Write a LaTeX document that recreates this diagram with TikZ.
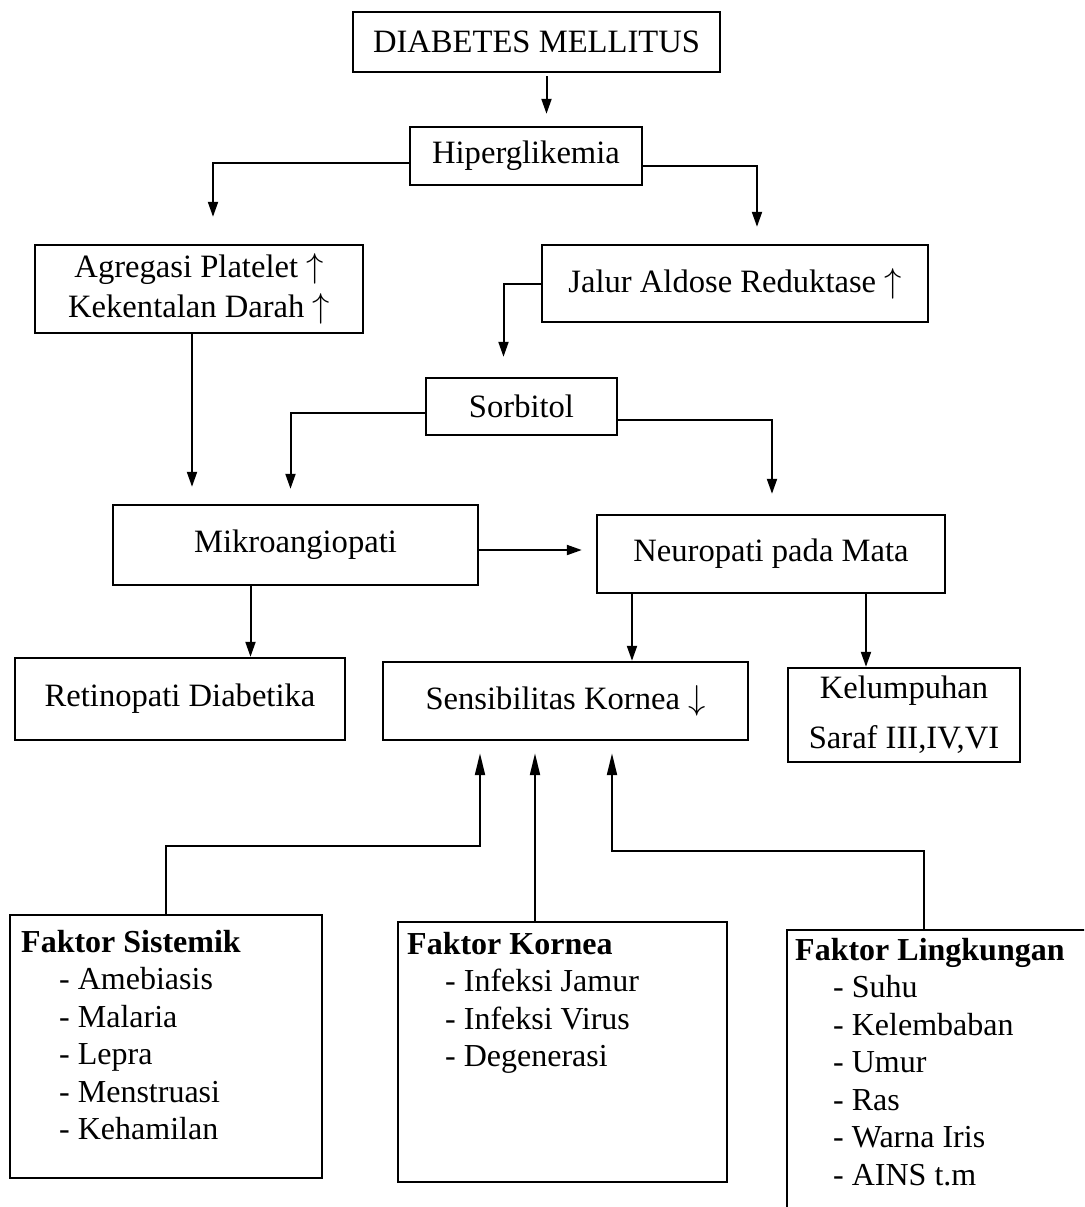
\documentclass[tikz,border=0pt]{standalone}
\usepackage{fontspec}
\setmainfont{Liberation Serif}
\usetikzlibrary{arrows.meta,positioning,calc}

\tikzset{
  box/.style={draw, line width=1.2pt, inner sep=0pt, align=center},
  link/.style={line width=1pt},
  arr/.style={link, -{Triangle[length=7.5pt,width=5pt]}},
  uparr/.style={link, -{Triangle[length=11pt,width=5pt]}},
  factxt/.style={anchor=north west, align=left, inner sep=0pt,
    font=\fontsize{16}{18.75}\selectfont}
}
\newcommand{\itm}{\hspace*{19pt}- }

\begin{document}
\begin{tikzpicture}[x=0.5pt, y=-0.5pt, font=\fontsize{16.3}{20}\selectfont]
  \useasboundingbox (0,0) rectangle (1084,1207);
  \clip (0,0) rectangle (1084,1207);

  % --- upper chain ---
  \node[box, minimum width=183.5pt, minimum height=30pt] (dm) at (536.5,42) {DIABETES MELLITUS};
  \node[box, minimum width=116pt, minimum height=29pt] (hip) at (526,156) {Hiperglikemia};
  \node[box, minimum width=164pt, minimum height=44pt] (agr) at (199,289) {Agregasi Platelet $\uparrow$\\Kekentalan Darah $\uparrow$};
  \node[box, minimum width=193pt, minimum height=38.5pt] (jal) at (735,283.5) {Jalur Aldose Reduktase $\uparrow$};
  \node[box, minimum width=95.5pt, minimum height=28.5pt] (sor) at (521.5,406.5) {Sorbitol};
  \node[box, minimum width=182.5pt, minimum height=40pt] (mik) at (295.5,545) {Mikroangiopati};
  \node[box, minimum width=174pt, minimum height=39pt] (neu) at (771,554) {Neuropati pada Mata};

  % --- results ---
  \node[box, minimum width=165pt, minimum height=41pt] (ret) at (180,699) {Retinopati Diabetika};
  \node[box, minimum width=182.5pt, minimum height=39pt] (sen) at (565.5,701) {Sensibilitas Kornea $\downarrow$};
  \node[box, minimum width=116pt, minimum height=47pt] (kel) at (904,715) {Kelumpuhan\\[5pt]Saraf III,IV,VI};

  % --- factor boxes ---
  \node[box, minimum width=156pt, minimum height=131.5pt] (sis) at (166,1046.5) {};
  \node[box, minimum width=164.5pt, minimum height=130pt] (kor) at (562.5,1052) {};
  \node[box, minimum width=166.5pt, minimum height=165pt] (lin) at (953.5,1095) {};
  \node[factxt] (sistxt) at ($(sis.north west)+(12,16)$)
    {\textbf{Faktor Sistemik}\\\itm Amebiasis\\\itm Malaria\\\itm Lepra\\\itm Menstruasi\\\itm Kehamilan};
  \node[factxt] (kortxt) at ($(kor.north west)+(10,11)$)
    {\textbf{Faktor Kornea}\\\itm Infeksi Jamur\\\itm Infeksi Virus\\\itm Degenerasi};
  \node[factxt] (lintxt) at ($(lin.north west)+(9,9)$)
    {\textbf{Faktor Lingkungan}\\\itm Suhu\\\itm Kelembaban\\\itm Umur\\\itm Ras\\\itm Warna Iris\\\itm AINS t.m};

  % --- connectors ---
  \draw[arr, shorten <=1.5pt, shorten >=6pt] ($(dm.south)+(10,0)$) coordinate (a1) -- (a1 |- hip.north);
  \draw[arr, shorten >=13.5pt] ($(hip.west)+(0,7)$) -| ($(agr.north)+(14,0)$);
  \draw[arr, shorten >=8.5pt] ($(hip.east)+(0,10)$) -| ($(jal.north)+(22,0)$);
  \draw[arr, shorten >=10pt] (jal.west) -| ($(sor.north)+(-18,0)$);
  \draw[arr, shorten >=7.5pt] ($(sor.west)+(0,6)$) -| ($(mik.north)+(-5,0)$);
  \draw[arr, shorten >=10pt] ($(sor.east)+(0,13)$) -| ($(neu.north)+(1,0)$);
  \draw[arr, shorten >=8.5pt] ($(agr.south)+(-7,0)$) coordinate (a2) -- (a2 |- mik.north);
  \draw[arr, shorten >=7pt] ($(mik.east)+(0,5)$) coordinate (a3) -- (a3 -| neu.west);
  \draw[arr] ($(mik.south)+(-45,0)$) coordinate (a4) -- (a4 |- ret.north);
  \draw[arr] ($(neu.south)+(-139,0)$) coordinate (a5) -- (a5 |- sen.north);
  \draw[arr] ($(neu.south)+(95,0)$) coordinate (a6) -- (a6 |- kel.north);

  % --- factors up to Sensibilitas ---
  \draw[uparr, shorten >=6pt] (sis.north) |- ($(sen.south)+(-85.5,105)$) coordinate (b1) -- (b1 |- sen.south);
  \draw[uparr, shorten >=6pt] ($(kor.north)+(-27.5,0)$) coordinate (b2) -- (b2 |- sen.south);
  \draw[uparr, shorten >=6pt] ($(lin.north west)+(138,0)$) |- ($(sen.south)+(46.5,110)$) coordinate (b3) -- (b3 |- sen.south);
\end{tikzpicture}
\end{document}
